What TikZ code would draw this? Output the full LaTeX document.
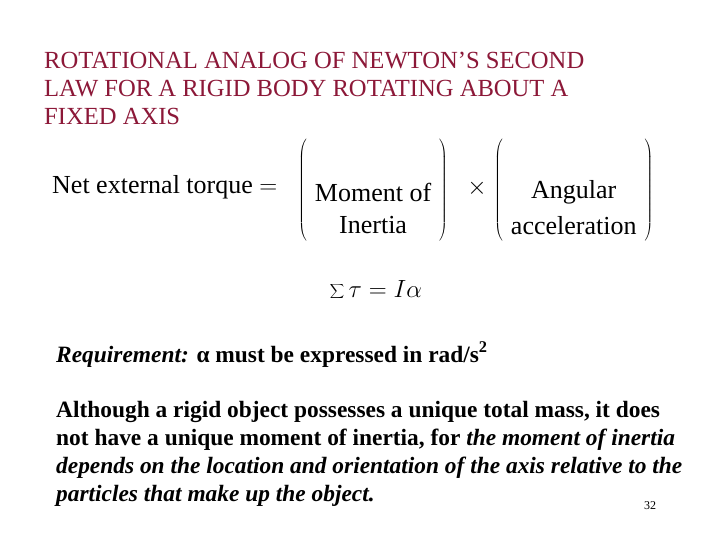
\documentclass[tikz,border=0pt]{standalone}
\usepackage{fontspec}
\setmainfont{Liberation Serif}
\definecolor{titlered}{RGB}{140,24,56}
\newcommand{\bigpar}[1]{$\left(\vcenter{\hbox{\rule{0pt}{80pt}\hspace{8pt}\begin{tabular}{@{}c@{}}#1\end{tabular}\hspace{8pt}}}\right)$}
\begin{document}
\begin{tikzpicture}[x=1pt,y=-1pt,
  title/.style={anchor=base west,inner sep=0,text=titlered,font=\fontsize{24.6}{28}\selectfont},
  body/.style={anchor=base west,inner sep=0,font=\fontsize{23.4}{28}\selectfont\bfseries},
  eq/.style={inner sep=0,font=\fontsize{26}{30}\selectfont}]
\useasboundingbox[fill=white] (0,0) rectangle (720,540);
\node[title] (t1) at (44,69) {ROTATIONAL ANALOG OF NEWTON’S SECOND};
\node[title] (t2) at (44,97) {LAW FOR A RIGID BODY ROTATING ABOUT A};
\node[title] (t3) at (44,125) {FIXED AXIS};
\node[eq,anchor=base west] (net) at (52,194) {Net external torque $=$};
\node[eq,anchor=west] (m) at (298,190) {\bigpar{Moment of\\[2pt] Inertia}};
\node[eq,anchor=center] (x) at (477,188) {$\times$};
\node[eq,anchor=west] (a) at (494,190) {\bigpar{Angular\\[6pt] acceleration}};
\node[inner sep=0,anchor=center,font=\fontsize{40}{46}\selectfont] (sum) at (376,290) {$\displaystyle\sum\tau=I\alpha$};
\node[body,anchor=base west] (req) at (56,362) {\textit{Requirement:} α must be expressed in rad/s\textsuperscript{2}};
\node[body] (p1) at (56,417) {Although a rigid object possesses a unique total mass, it does};
\node[body] (p2) at (56,445) {not have a unique moment of inertia, for \textit{the moment of inertia}};
\node[body] (p3) at (56,473) {\textit{depends on the location and orientation of the axis relative to the}};
\node[body] (p4) at (56,501) {\textit{particles that make up the object.}};
\node[anchor=base west,inner sep=0,font=\fontsize{12}{14}\selectfont] (pg) at (644,509) {32};
\end{tikzpicture}
\end{document}
